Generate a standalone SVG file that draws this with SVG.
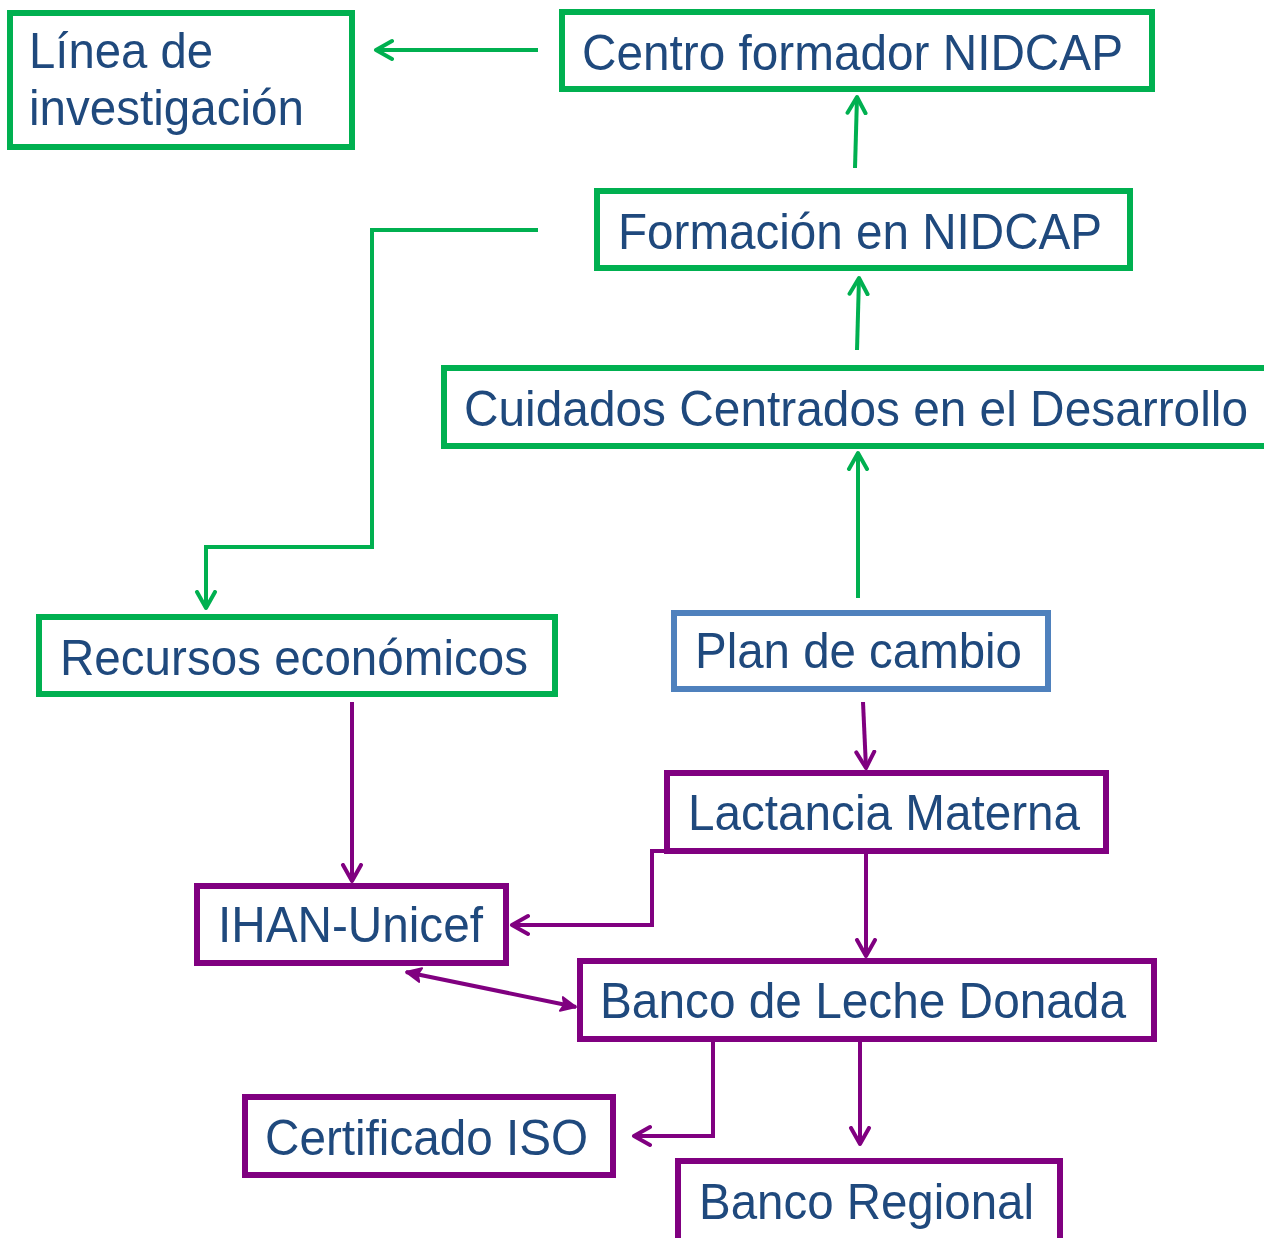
<svg xmlns="http://www.w3.org/2000/svg" width="1264" height="1238" viewBox="0 0 1264 1238">
<defs>
<style>
.box{fill:#fff;stroke-width:6}
.g{stroke:#00B050}
.p{stroke:#800080}
.b{stroke:#4F81BD}
text{font-family:"Liberation Sans",Arial,sans-serif;font-size:50px;fill:#1F497D}
.cg{fill:none;stroke:#00B050;stroke-width:4}
.cp{fill:none;stroke:#800080;stroke-width:4}
</style>
<marker id="ag" markerUnits="userSpaceOnUse" markerWidth="24" markerHeight="24" refX="18" refY="10" orient="auto" viewBox="0 0 24 20">
<path d="M2,1 L18,10 L2,19" fill="none" stroke="#00B050" stroke-width="4" stroke-linecap="round" stroke-linejoin="round"/>
</marker>
<marker id="ap" markerUnits="userSpaceOnUse" markerWidth="24" markerHeight="24" refX="18" refY="10" orient="auto" viewBox="0 0 24 20">
<path d="M2,1 L18,10 L2,19" fill="none" stroke="#800080" stroke-width="4" stroke-linecap="round" stroke-linejoin="round"/>
</marker>
<marker id="tp" markerUnits="userSpaceOnUse" markerWidth="20" markerHeight="20" refX="16" refY="8" orient="auto-start-reverse" viewBox="0 0 20 16">
<path d="M1,1 L16,8 L1,15 L4,8 Z" fill="#800080" stroke="#800080" stroke-width="2" stroke-linejoin="round"/>
</marker>
</defs>
<rect width="1264" height="1238" fill="#fff"/>
<g id="connectors">
<path class="cg" d="M538,50 L376,50" marker-end="url(#ag)"/>
<path class="cg" d="M855,168 L857,97" marker-end="url(#ag)"/>
<path class="cg" d="M857,350 L859,278" marker-end="url(#ag)"/>
<path class="cg" d="M858,598 L858,453" marker-end="url(#ag)"/>
<path class="cg" d="M538,230 L372,230 L372,547 L206,547 L206,608" marker-end="url(#ag)"/>
<path class="cp" d="M352,702 L352,881" marker-end="url(#ap)"/>
<path class="cp" d="M863,702 L866,768" marker-end="url(#ap)"/>
<path class="cp" d="M665,851 L652,851 L652,925 L512,925" marker-end="url(#ap)"/>
<path class="cp" d="M866,854 L866,956" marker-end="url(#ap)"/>
<path class="cp" d="M406,972 L576,1007" marker-start="url(#tp)" marker-end="url(#tp)"/>
<path class="cp" d="M713,1042 L713,1136 L634,1136" marker-end="url(#ap)"/>
<path class="cp" d="M860,1042 L860,1144" marker-end="url(#ap)"/>
</g>
<g id="linea"><rect class="box g" x="10" y="13" width="342" height="134"/><text x="29" y="68" textLength="184" lengthAdjust="spacingAndGlyphs">Línea de</text><text x="29" y="125" textLength="275" lengthAdjust="spacingAndGlyphs">investigación</text></g>
<g id="centro"><rect class="box g" x="562" y="12" width="590" height="77"/><text x="582" y="70" textLength="541" lengthAdjust="spacingAndGlyphs">Centro formador NIDCAP</text></g>
<g id="formacion"><rect class="box g" x="597" y="191" width="533" height="77"/><text x="618" y="249" textLength="484" lengthAdjust="spacingAndGlyphs">Formación en NIDCAP</text></g>
<g id="cuidados"><rect class="box g" x="444" y="368" width="826" height="78"/><text x="464" y="426" textLength="784" lengthAdjust="spacingAndGlyphs">Cuidados Centrados en el Desarrollo</text></g>
<g id="recursos"><rect class="box g" x="39" y="617" width="516" height="77"/><text x="60" y="675" textLength="468" lengthAdjust="spacingAndGlyphs">Recursos económicos</text></g>
<g id="plan"><rect class="box b" x="674" y="613" width="374" height="76"/><text x="695" y="668" textLength="327" lengthAdjust="spacingAndGlyphs">Plan de cambio</text></g>
<g id="lactancia"><rect class="box p" x="667" y="773" width="439" height="78"/><text x="688" y="830" textLength="392" lengthAdjust="spacingAndGlyphs">Lactancia Materna</text></g>
<g id="ihan"><rect class="box p" x="197" y="886" width="309" height="77"/><text x="218" y="942" textLength="265" lengthAdjust="spacingAndGlyphs">IHAN-Unicef</text></g>
<g id="banco-leche"><rect class="box p" x="580" y="961" width="574" height="78"/><text x="600" y="1018" textLength="526" lengthAdjust="spacingAndGlyphs">Banco de Leche Donada</text></g>
<g id="certificado"><rect class="box p" x="245" y="1097" width="368" height="78"/><text x="265" y="1155" textLength="323" lengthAdjust="spacingAndGlyphs">Certificado ISO</text></g>
<g id="banco-regional"><rect class="box p" x="678" y="1161" width="382" height="80"/><text x="699" y="1219" textLength="335" lengthAdjust="spacingAndGlyphs">Banco Regional</text></g>
</svg>
